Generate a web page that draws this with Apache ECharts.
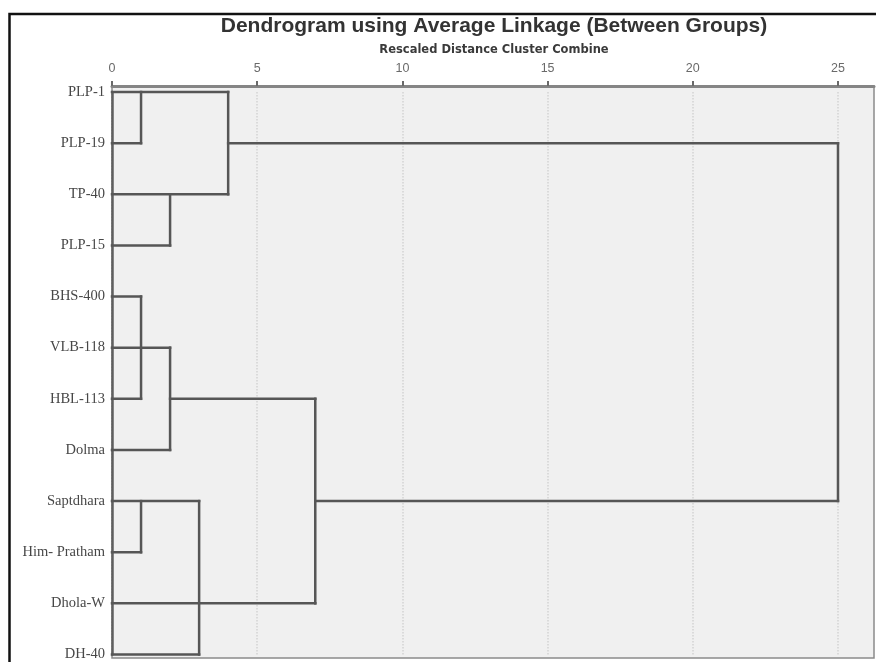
<!DOCTYPE html>
<html>
<head>
<meta charset="utf-8">
<script src="https://cdn.jsdelivr.net/npm/echarts@6/dist/echarts.min.js"></script>
<style>
  html, body { margin: 0; padding: 0; background: #fff; }
  #chart { width: 876px; height: 662px; }
</style>
</head>
<body>
<div id="chart"></div>
<script>
// leaves, top to bottom
const leaves = ['PLP-1', 'PLP-19', 'TP-40', 'PLP-15', 'BHS-400', 'VLB-118',
  'HBL-113', 'Dolma', 'Saptdhara', 'Him- Pratham', 'Dhola-W', 'DH-40']

// horizontal branches: [row, from, to] (rescaled distance)
const branches = [
  [0, 0, 4], [1, 0, 1], [1, 4, 25], [2, 0, 4], [3, 0, 2],
  [4, 0, 1], [5, 0, 2], [6, 0, 1], [6, 2, 7], [7, 0, 2],
  [8, 0, 3], [8, 7, 25], [9, 0, 1], [10, 0, 7], [11, 0, 3]
]

// vertical joins: [distance, rowTop, rowBottom]
const joins = [
  [1, 0, 1], [4, 0, 2], [2, 2, 3], [1, 4, 6], [2, 5, 7],
  [1, 8, 9], [3, 8, 11], [7, 6, 10], [25, 1, 8]
]

const ticks = [0, 5, 10, 15, 20, 25]

const lineColor = '#565656'

const chart = echarts.init(document.getElementById('chart'))

function segment(a, b) {
  return {
    type: 'line',
    shape: { x1: a[0], y1: a[1], x2: b[0], y2: b[1] },
    style: { stroke: lineColor, lineWidth: 2.5, lineCap: 'square' }
  }
}

const option = {
  animation: false,
  title: [
    {
      text: 'Dendrogram using Average Linkage (Between Groups)',
      left: 494, top: 16, padding: 0, textAlign: 'center',
      textStyle: { fontFamily: 'Liberation Sans', fontSize: 21, fontWeight: 'bold', color: '#333' }
    },
    {
      text: 'Rescaled Distance Cluster Combine',
      left: 494, top: 44, padding: 0, textAlign: 'center',
      textStyle: { fontFamily: 'DejaVu Sans', fontSize: 11.5, fontWeight: 'bold', color: '#3a3a3a' }
    }
  ],
  graphic: [
    {
      type: 'rect', z: -10,
      shape: { x: 112, y: 86, width: 762, height: 572 },
      style: { fill: '#f0f0f0', stroke: '#8a8a8a', lineWidth: 1.5 }
    },
    {
      type: 'rect', z: 100,
      shape: { x: 9.5, y: 14, width: 900, height: 700 },
      style: { fill: 'none', stroke: '#111', lineWidth: 2.5 }
    }
  ],
  grid: { left: 112, right: 2, top: 92, bottom: 7, containLabel: false },
  xAxis: {
    type: 'value', position: 'top', offset: 6,
    min: 0, max: 26.24, interval: 5,
    axisLine: { show: true, lineStyle: { color: '#858585', width: 3 } },
    axisTick: { show: true, length: 5, customValues: ticks, lineStyle: { color: '#6a6a6a', width: 2 } },
    axisLabel: {
      margin: 11, fontFamily: 'Liberation Sans', fontSize: 12.5, color: '#6a6a6a',
      customValues: ticks
    },
    splitLine: { show: true, lineStyle: { color: '#d2d2d2', type: 'dotted', width: 1.5 } }
  },
  yAxis: {
    type: 'category', data: leaves, inverse: true, boundaryGap: false,
    axisLine: { show: true, lineStyle: { color: '#5f5f5f', width: 2.5 } },
    axisTick: { show: false },
    axisLabel: { margin: 7, fontFamily: 'Liberation Serif', fontSize: 14.5, color: '#474747' },
    splitLine: { show: false }
  },
  series: [
    {
      type: 'custom', name: 'branches', data: branches,
      encode: { x: [1, 2], y: 0 },
      renderItem: (params, api) => segment(
        api.coord([api.value(1), api.value(0)]),
        api.coord([api.value(2), api.value(0)])
      )
    },
    {
      type: 'custom', name: 'joins', data: joins,
      encode: { x: 0, y: [1, 2] },
      renderItem: (params, api) => segment(
        api.coord([api.value(0), api.value(1)]),
        api.coord([api.value(0), api.value(2)])
      )
    }
  ]
}

chart.setOption(option)
</script>
</body>
</html>
